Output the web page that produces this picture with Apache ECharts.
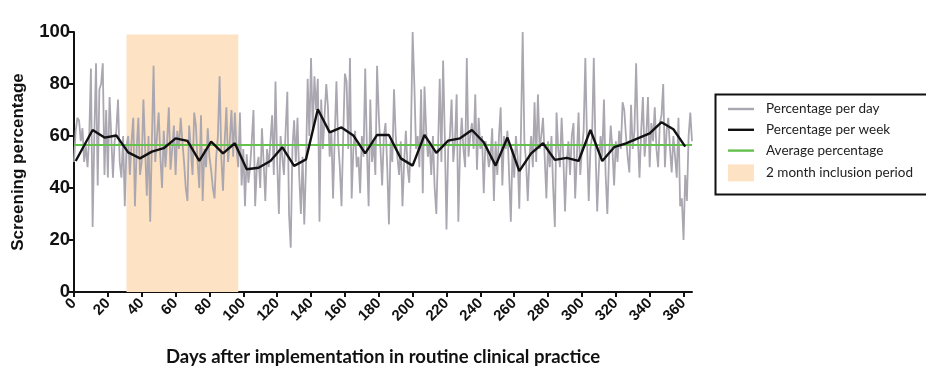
<!DOCTYPE html>
<html>
<head>
<meta charset="utf-8">
<script src="https://cdn.jsdelivr.net/npm/echarts@6/dist/echarts.min.js"></script>
<style>
  html, body { margin: 0; padding: 0; background: #ffffff; }
  #chart { width: 926px; height: 380px; }
</style>
</head>
<body>
<div id="chart"></div>
<script>
// Daily screening percentage, day 0 .. 365
const dayValues = [
  50, 62, 67, 66, 58, 63, 50, 56, 48, 60,
  86, 25, 60, 88, 41, 78, 80, 88, 45, 70,
  44, 75, 60, 44, 58, 62, 74, 50, 44, 60,
  33, 56, 60, 45, 58, 67, 33, 55, 67, 45,
  50, 74, 55, 37, 60, 27, 58, 87, 50, 60,
  69, 52, 40, 62, 48, 58, 71, 47, 55, 64,
  45, 62, 55, 67, 58, 50, 40, 35, 64, 55,
  45, 69, 64, 50, 40, 68, 35, 55, 48, 63,
  52, 47, 40, 36, 52, 60, 83, 52, 39, 58,
  71, 50, 58, 70, 52, 69, 55, 48, 69, 41,
  55, 33, 53, 42, 48, 58, 70, 33, 48, 52,
  40, 63, 50, 35, 55, 48, 58, 68, 45, 81,
  50, 30, 60, 52, 45, 62, 77, 30, 17, 55,
  66, 50, 67, 45, 30, 52, 26, 48, 82, 60,
  90, 62, 83, 70, 82, 27, 74, 55, 68, 80,
  71, 52, 62, 36, 60, 81, 58, 48, 33, 60,
  84, 81, 55, 90, 36, 55, 62, 48, 52, 38,
  60, 52, 86, 55, 33, 74, 50, 58, 45, 87,
  68, 55, 41, 60, 65, 48, 26, 58, 50, 78,
  60, 52, 45, 58, 33, 50, 62, 48, 42, 60,
  100, 80, 55, 60, 48, 78, 38, 79, 62, 52,
  58, 45, 60, 40, 30, 55, 82, 50, 89, 60,
  24, 55, 60, 74, 50, 58, 76, 27, 55, 67,
  55, 48, 90, 52, 60, 65, 55, 76, 47, 67,
  55, 60, 38, 58, 55, 48, 52, 63, 35, 58,
  45, 60, 71, 41, 60, 55, 62, 45, 27, 55,
  44, 60, 52, 32, 62, 100, 58, 50, 35, 52,
  60, 48, 73, 50, 76, 55, 60, 67, 52, 36,
  58, 48, 60, 40, 25, 69, 55, 48, 67, 52,
  31, 50, 58, 45, 60, 65, 36, 52, 69, 45,
  55, 62, 90, 58, 35, 55, 60, 90, 55, 31,
  48, 60, 52, 74, 45, 30, 52, 64, 55, 41,
  58, 50, 62, 55, 73, 70, 60, 52, 46, 72,
  55, 62, 88, 60, 44, 62, 75, 52, 60, 75,
  48, 65, 58, 71, 55, 48, 65, 68, 80, 48,
  62, 67, 55, 46, 60, 52, 44, 67, 33, 36,
  20, 45, 35, 60, 69, 58
];

// Weekly screening percentage and the day each week is plotted at
const weekDays = [
  1, 11, 18, 25, 32, 39, 46, 53, 60, 67, 74, 81, 88, 95, 102, 109, 116, 123,
  130, 137, 144, 151, 158, 165, 172, 179, 186, 193, 200, 207, 214, 221, 228,
  235, 242, 249, 256, 263, 270, 277, 284, 291, 298, 305, 312, 319, 326, 333,
  340, 347, 354, 361
];
const weekValues = [
  50.4, 62.3, 59.4, 60.2, 53.7, 51.4, 54, 55.3, 59.1, 58.1, 50.4, 57.8, 53.3,
  57.2, 47.2, 47.8, 50.4, 55.7, 48.5, 51, 70.3, 61.4, 63.3, 60.2, 53.3, 60.4,
  60.4, 51.4, 48.6, 60.4, 53.5, 58.2, 59.1, 62.3, 57.6, 48.6, 59.4, 46.5, 53.3,
  57.2, 50.8, 51.6, 50.4, 62.3, 50.4, 55.7, 57.2, 59.1, 61, 65.3, 62.6, 55.9
];

// Overall average and the inclusion window (days)
const averageValue = 56.5;
const averageSpan = [0, 365];
const inclusionPeriod = [31, 97];
const inclusionTop = 99;

// Axis ticks
const xTickValues = [0, 20, 40, 60, 80, 100, 120, 140, 160, 180, 200, 220, 240, 260, 280, 300, 320, 340, 360];

const seriesNames = ['Percentage per day', 'Percentage per week', 'Average percentage', '2 month inclusion period'];

const GRAY = '#aaa7b0';
const PEACH = '#fde2c3';
const GREEN = '#65c04e';
const INK = '#111111';

// thin horizontal bar used as the legend swatch for the line series
const LINE_ICON = 'path://M0,0H26V2.4H0Z';

const chart = echarts.init(document.getElementById('chart'), null, { renderer: 'canvas' });

chart.setOption({
  animation: false,
  backgroundColor: '#ffffff',
  grid: { left: 74, right: 234, top: 32, bottom: 88, containLabel: false },
  // legend frame; it runs past the right edge of the canvas
  graphic: [{
    type: 'rect',
    left: 713,
    top: 92,
    shape: { x: 0, y: 0, width: 260, height: 100 },
    style: { fill: 'none', stroke: INK, lineWidth: 2 },
    silent: true
  }],
  legend: {
    left: 713,
    top: 92,
    orient: 'vertical',
    padding: [10, 5, 5, 15],
    itemWidth: 26,
    itemHeight: 17,
    itemGap: 6.8,
    textStyle: { fontFamily: 'Lato', fontSize: 13.5, color: '#222222', padding: [0, 0, 0, 7] },
    data: [
      { name: seriesNames[0], icon: LINE_ICON, itemStyle: { color: GRAY } },
      { name: seriesNames[1], icon: LINE_ICON, itemStyle: { color: INK } },
      { name: seriesNames[2], icon: LINE_ICON, itemStyle: { color: GREEN } },
      { name: seriesNames[3], icon: 'rect', itemStyle: { color: PEACH } }
    ]
  },
  xAxis: {
    type: 'value',
    min: 0,
    max: 365,
    interval: 20,
    name: 'Days after implementation in routine clinical practice',
    nameLocation: 'middle',
    nameGap: 56,
    nameTextStyle: { fontFamily: 'Lato', fontWeight: 'bold', fontSize: 18.5, color: INK },
    axisLine: { show: true, onZero: false, lineStyle: { color: INK, width: 2 } },
    axisTick: { show: true, length: 5, lineStyle: { color: INK, width: 2 }, customValues: xTickValues },
    axisLabel: {
      rotate: 45,
      margin: 9,
      fontFamily: 'Liberation Sans',
      fontWeight: 'bold',
      fontSize: 15,
      color: INK,
      customValues: xTickValues
    },
    splitLine: { show: false }
  },
  yAxis: {
    type: 'value',
    min: 0,
    max: 100,
    interval: 20,
    name: 'Screening percentage',
    nameLocation: 'middle',
    nameGap: 47,
    nameTextStyle: { fontFamily: 'Liberation Sans', fontWeight: 'bold', fontSize: 17, color: INK },
    axisLine: { show: true, lineStyle: { color: INK, width: 2 } },
    axisTick: { show: true, length: 6, lineStyle: { color: INK, width: 2 } },
    axisLabel: { margin: 4, fontFamily: 'Liberation Sans', fontWeight: 'bold', fontSize: 18.5, color: INK },
    splitLine: { show: false }
  },
  series: [
    {
      name: seriesNames[3],
      type: 'line',
      data: [],
      itemStyle: { color: PEACH },
      z: 1,
      markArea: {
        silent: true,
        itemStyle: { color: PEACH, opacity: 1 },
        data: [[
          { xAxis: inclusionPeriod[0], yAxis: 0 },
          { xAxis: inclusionPeriod[1], yAxis: inclusionTop }
        ]]
      }
    },
    {
      name: seriesNames[0],
      type: 'line',
      data: dayValues.map((v, i) => [i, v]),
      showSymbol: false,
      symbol: 'none',
      lineStyle: { color: GRAY, width: 1.8 },
      itemStyle: { color: GRAY },
      z: 2
    },
    {
      name: seriesNames[2],
      type: 'line',
      data: averageSpan.map(d => [d, averageValue]),
      showSymbol: false,
      symbol: 'none',
      lineStyle: { color: GREEN, width: 2 },
      itemStyle: { color: GREEN },
      z: 3
    },
    {
      name: seriesNames[1],
      type: 'line',
      data: weekDays.map((d, i) => [d, weekValues[i]]),
      showSymbol: false,
      symbol: 'none',
      lineStyle: { color: INK, width: 2.4 },
      itemStyle: { color: INK },
      z: 4
    }
  ]
});
</script>
</body>
</html>
